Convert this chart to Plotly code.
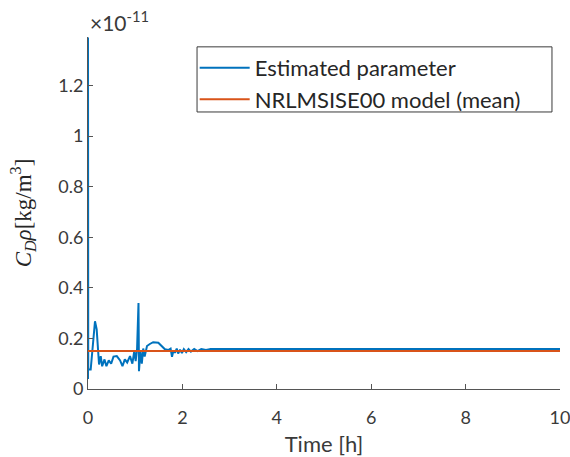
import plotly.graph_objects as go

# Time [h]
t_est = [0.0, 0.0, 0.005, 0.057, 0.148, 0.184, 0.21, 0.234, 0.27, 0.30,
         0.35, 0.39, 0.44, 0.49, 0.54, 0.61, 0.68, 0.73, 0.78, 0.83,
         0.89, 0.94, 0.98, 1.01, 1.04, 1.07, 1.08, 1.11, 1.14, 1.17,
         1.20, 1.25, 1.31, 1.38, 1.49, 1.56, 1.63, 1.70, 1.75, 1.78,
         1.81, 1.84, 1.88, 1.91, 1.95, 1.99, 2.03, 2.08, 2.13, 2.18,
         2.25, 2.32, 2.40, 2.50, 2.60, 3.00, 10.0]
# Estimated C_D*rho [x1e-11 kg/m^3]
cd_rho_est = [0.04, 1.39, 0.077, 0.077, 0.268, 0.236, 0.17, 0.097, 0.13, 0.09,
              0.117, 0.09, 0.113, 0.10, 0.128, 0.13, 0.113, 0.09, 0.117, 0.105,
              0.13, 0.10, 0.15, 0.11, 0.16, 0.34, 0.07, 0.15, 0.10, 0.16,
              0.128, 0.17, 0.178, 0.185, 0.183, 0.17, 0.157, 0.154, 0.16, 0.127,
              0.152, 0.143, 0.16, 0.14, 0.155, 0.142, 0.158, 0.146, 0.158, 0.148,
              0.158, 0.15, 0.158, 0.154, 0.158, 0.158, 0.158]
t_model = [0.0, 10.0]
cd_rho_model = [0.15, 0.15]

x_ticks = [0, 2, 4, 6, 8, 10]
y_ticks = [0, 0.2, 0.4, 0.6, 0.8, 1.0, 1.2]
y_ticklabels = ["0", "0.2", "0.4", "0.6", "0.8", "1", "1.2"]

fig = go.Figure()
fig.add_trace(go.Scatter(x=t_est, y=cd_rho_est, mode="lines",
                         name="Estimated parameter",
                         line=dict(color="#0072BD", width=2)))
fig.add_trace(go.Scatter(x=t_model, y=cd_rho_model, mode="lines",
                         name="NRLMSISE00 model (mean)",
                         line=dict(color="#D95319", width=2)))

sans = "Lato, 'Open Sans', sans-serif"
tick_font = dict(family=sans, size=18, color="#3a3a3a")
fig.update_layout(
    width=570, height=457,
    margin=dict(l=88, r=10, t=37, b=67.5, autoexpand=False),
    paper_bgcolor="white", plot_bgcolor="white",
    font=tick_font,
    showlegend=True,
    legend=dict(x=0.226, y=0.972, xanchor="left", yanchor="top",
                borderwidth=0, bgcolor="rgba(0,0,0,0)",
                font=dict(family=sans, size=22, color="#262626"),
                tracegroupgap=0, itemwidth=50),
    shapes=[dict(type="rect", xref="paper", yref="paper",
                 x0=0.231, x1=0.983, y0=0.787, y1=0.972,
                 line=dict(color="#3a3a3a", width=1), fillcolor="white",
                 layer="above")],
    xaxis=dict(range=[0, 10], tickvals=x_ticks, ticks="inside", ticklen=5,
               tickcolor="#555", showline=True, linecolor="#555", linewidth=1,
               showgrid=False, zeroline=False, mirror=False,
               ticklabeloverflow="allow", ticklabelstandoff=12,
               title=dict(text="Time [h]", font=dict(family=sans, size=22, color="#3a3a3a"),
                          standoff=17)),
    yaxis=dict(range=[0, 1.392], tickvals=y_ticks, ticktext=y_ticklabels,
               ticks="inside", ticklen=5, tickcolor="#555",
               showline=True, linecolor="#555", linewidth=1,
               showgrid=False, zeroline=False, mirror=False,
               ticklabeloverflow="allow",
               title=dict(text="<i>C</i><sub><i>D</i></sub><i>ρ</i>[kg/m<sup>3</sup>]",
                          font=dict(family="'Liberation Serif', 'DejaVu Serif', serif",
                                    size=23, color="#262626"),
                          standoff=20)),
    annotations=[dict(text="×10<sup>-11</sup>", xref="paper", yref="paper",
                      x=0.0, y=1.0, xanchor="left", yanchor="bottom",
                      showarrow=False, yshift=0, xshift=0,
                      font=dict(family=sans, size=21, color="#3a3a3a"))],
)

fig.write_html("out.html", config={"displayModeBar": False},
               post_script="document.body.style.margin='0';document.body.style.overflow='hidden';")
